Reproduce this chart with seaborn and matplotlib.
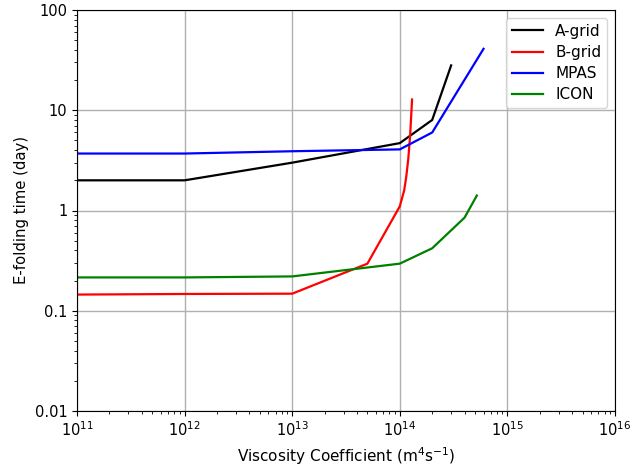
import matplotlib
matplotlib.use("Agg")
import matplotlib.pyplot as plt
import seaborn as sns
import pandas as pd
import numpy as np

# Data
a_x = [1e11, 1e12, 1e13, 1e14, 2e14, 3e14]
a_y = [2.0, 2.0, 3.0, 4.7, 8.0, 28.0]

b_x = [1e11, 1e12, 1e13, 5e13, 1e14, 1.1e14, 1.15e14, 1.2e14, 1.25e14, 1.3e14]
b_y = [0.145, 0.147, 0.148, 0.295, 1.1, 1.6, 2.2, 3.3, 5.8, 12.8]

m_x = [1e11, 1e12, 1e13, 1e14, 2e14, 6e14]
m_y = [3.7, 3.7, 3.9, 4.07, 6.0, 41.0]

i_x = [1e11, 1e12, 1e13, 1e14, 2e14, 4e14, 5.2e14]
i_y = [0.215, 0.215, 0.22, 0.295, 0.42, 0.85, 1.41]

labels = ["A-grid", "B-grid", "MPAS", "ICON"]
colors = ["black", "red", "blue", "green"]

frames = []
for lab, xs, ys in zip(labels, [a_x, b_x, m_x, i_x], [a_y, b_y, m_y, i_y]):
    frames.append(pd.DataFrame({"x": xs, "y": ys, "model": lab}))
df = pd.concat(frames, ignore_index=True)

fig = plt.figure(figsize=(6.31, 4.67), dpi=100)
ax = fig.add_axes([77/631, 1 - 411/467, (615-77)/631, (411-10)/467])

sns.lineplot(data=df, x="x", y="y", hue="model", hue_order=labels,
             palette=dict(zip(labels, colors)), sort=False, estimator=None,
             linewidth=1.6, ax=ax)

ax.set_xscale("log")
ax.set_yscale("log")
ax.set_xlim(1e11, 1e16)
ax.set_ylim(0.01, 100)
ax.set_yticks([0.01, 0.1, 1, 10, 100])
ax.set_yticklabels(["0.01", "0.1", "1", "10", "100"])
ax.grid(True, which="major", color="#b0b0b0", linewidth=1)
ax.set_axisbelow(True)
ax.set_xlabel(r"Viscosity Coefficient (m$^4$s$^{-1}$)", fontsize=11)
ax.set_ylabel("E-folding time (day)", fontsize=10.7)
ax.tick_params(labelsize=10.5)
leg = ax.legend(loc="upper right", fontsize=11, title=None, labelspacing=0.4)

fig.savefig("out.png", dpi=100)
